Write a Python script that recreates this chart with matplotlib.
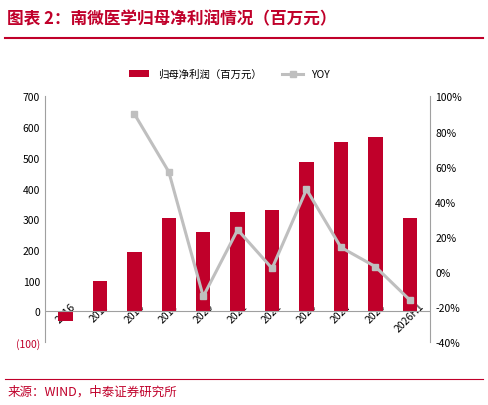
import matplotlib
matplotlib.use('Agg')
import matplotlib.pyplot as plt
from matplotlib.ticker import FuncFormatter
plt.rcParams['font.family'] = ['Noto Sans CJK SC', 'DejaVu Sans']

years = ['2016', '2017', '2018', '2019', '2020', '2021', '2022', '2023', '2024', '2025', '2026H1']
profit = [-30, 100, 192, 303, 260, 323, 330, 485, 552, 568, 303]
yoy = [None, None, 90, 57, -14, 24, 2, 47, 14, 3, -16]

fig = plt.figure(figsize=(4.88, 4.06), dpi=100)
ax = fig.add_axes([0.092, 0.155, 0.79, 0.605])
x = list(range(len(years)))
ax.bar(x, profit, width=0.42, color='#C0002A', label='归母净利润（百万元）', zorder=2)
ax.set_ylim(-100, 700)
ax.set_yticks(range(-100, 701, 100))
ax.yaxis.set_major_formatter(FuncFormatter(lambda v, p: '(100)' if v < 0 else f'{int(v)}'))
for t in ax.get_yticklabels():
    t.set_fontsize(7.5)
ax.get_yticklabels()[0].set_color('#C0002A')
ax.set_xlim(-0.6, len(years) - 0.4)
ax.set_xticks(x)
ax.set_xticklabels(years, rotation=45, fontsize=7.5)
ax.tick_params(axis='y', length=0)
ax.tick_params(axis='x', length=0, pad=-30)
ax.axhline(0, color='#A0A0A0', lw=0.8)
for s in ax.spines.values():
    s.set_visible(False)
ax.spines['left'].set_visible(True)
ax.spines['left'].set_color('#A0A0A0')

ax2 = ax.twinx()
xi = [i for i, v in zip(x, yoy) if v is not None]
yv = [v for v in yoy if v is not None]
ax2.plot(xi, yv, color='#BFBFBF', lw=2.2, marker='s', markersize=5, label='YOY')
ax2.set_ylim(-40, 100)
ax2.set_yticks(range(-40, 101, 20))
ax2.yaxis.set_major_formatter(FuncFormatter(lambda v, p: f'{int(v)}%'))
ax2.tick_params(length=0, labelsize=7.5)
for s in ax2.spines.values():
    s.set_visible(False)
ax2.spines['right'].set_visible(True)
ax2.spines['right'].set_color('#A0A0A0')

h1, l1 = ax.get_legend_handles_labels()
h2, l2 = ax2.get_legend_handles_labels()
fig.legend(h1 + h2, l1 + l2, loc='center', bbox_to_anchor=(0.47, 0.815), ncol=2,
           frameon=False, fontsize=7.5)

fig.text(0.015, 0.952, '图表 2：南微医学归母净利润情况（百万元）', color='#C0002A',
         fontsize=12, fontweight='bold', style='italic', va='center')
fig.add_artist(plt.Line2D([0.01, 0.99], [0.905, 0.905], color='#C0002A', lw=1.5))
fig.add_artist(plt.Line2D([0.01, 0.99], [0.065, 0.065], color='#C0002A', lw=0.8))
fig.text(0.015, 0.035, '来源：WIND，中泰证券研究所', color='#C0002A', fontsize=9, va='center')

fig.savefig('out.png', dpi=100)
